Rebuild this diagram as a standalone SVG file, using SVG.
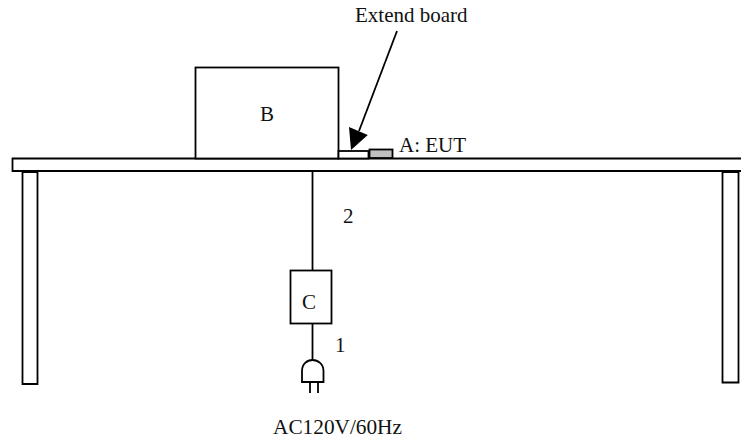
<svg xmlns="http://www.w3.org/2000/svg" width="741" height="442" viewBox="0 0 741 442">
<style>
.s{fill:none;stroke:#000;stroke-width:1.800}
.b{fill:#fff;stroke:#000;stroke-width:1.800}
text{font-family:"Liberation Serif","Times New Roman",serif;font-size:21px;fill:#111}
</style>
<rect width="741" height="442" fill="#fff"/>
<g id="table">
<path class="s" d="M741 158.500H12.500V171H741"/>
<path class="s" d="M22.500 172V384H37.500V172Z"/>
<path class="s" d="M722.500 172V382.500H738.500V172Z"/>
</g>
<g id="connectors">
<path class="s" d="M312.500 171V270"/>
<path class="s" d="M312.500 324V360"/>
<path class="s" d="M397 31L359 131"/>
<path d="M351 150L349 127L367.800 135Z" fill="#000"/>
</g>
<g id="node-b"><rect class="b" x="195.500" y="67.500" width="143" height="91"/><text x="267" y="121" text-anchor="middle">B</text></g>
<g id="node-extend"><rect class="b" x="338.500" y="151" width="30" height="7.500"/></g>
<g id="node-a"><rect x="369.500" y="149.500" width="23" height="8.500" fill="#c0c0c0" stroke="#000" stroke-width="1.800"/><text x="399" y="152">A: EUT</text></g>
<g id="node-c"><rect class="b" x="290.500" y="270.500" width="41" height="53"/><text x="309" y="309" text-anchor="middle">C</text></g>
<g id="plug">
<path class="s" d="M302 382V371C302 364 307 360 312.500 360C318 360 323.500 364 323.500 371V382Z"/>
<path class="s" d="M310 382V393M318 382V393"/>
</g>
<g id="labels">
<text x="355" y="22">Extend board</text>
<text x="343" y="223">2</text>
<text x="335" y="352">1</text>
<text x="273" y="434" style="font-size:21.300px">AC120V/60Hz</text>
</g>
</svg>
